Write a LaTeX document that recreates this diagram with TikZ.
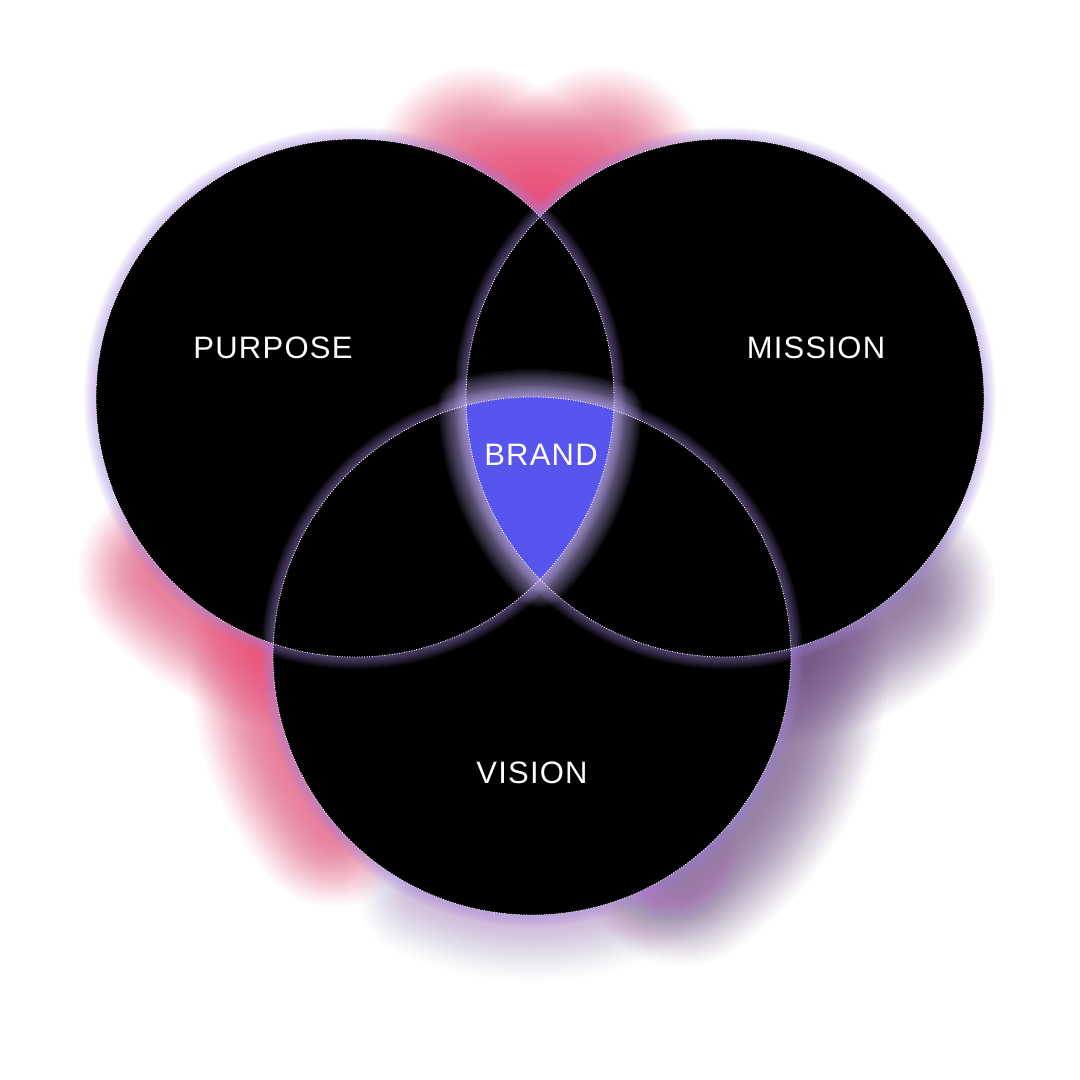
\documentclass[tikz,border=0pt]{standalone}
\usepackage{fontspec}
\setmainfont{Liberation Sans}
\newfontfamily\labelfont[LetterSpace=4]{Liberation Sans}
\definecolor{glowpink}{HTML}{E9527D}
\definecolor{glowmauve}{HTML}{75558A}
\definecolor{glowlilac}{HTML}{A77AB8}
\definecolor{halo}{HTML}{A98BE6}
\definecolor{brandglow}{HTML}{C4B4FA}
\definecolor{brandfill}{HTML}{5854EE}
\newcommand{\labelsize}{\labelfont\fontsize{31}{36}\selectfont}
\newcommand{\rad}{259}

\begin{document}
\begin{tikzpicture}[x=1pt, y=1pt,
  disc/.style={fill=black},
  rim/.style={draw=white, line width=0.9pt, dash pattern=on 0.9pt off 1.6pt},
  word/.style={text=white, font=\labelsize, inner sep=0pt},
  brandedge/.style={insert path={(vision) ++(104.74:\rad)
    arc[start angle=104.74, end angle=71.6, radius=\rad]
    arc[start angle=-2.7, end angle=-44.4, radius=\rad]
    arc[start angle=224.4, end angle=181.66, radius=\rad] -- cycle}}]
\useasboundingbox[fill=white] (0,0) rectangle (1080,1080);

\coordinate (purpose) at (355,682);
\coordinate (mission) at (725,682);
\coordinate (vision) at (532,424);

% soft glow along the outer rims, gaussian falloff
\foreach \c/\sa/\ea/\gc/\op/\sg in {purpose/222/252/glowpink/0.035/45,
    vision/176/220/glowpink/0.035/45, purpose/44/62/glowpink/0.04/55,
    mission/136/118/glowpink/0.04/55, mission/286/312/glowmauve/0.035/52,
    vision/3/-55/glowmauve/0.035/52, vision/-55/-115/glowlilac/0.014/35}
  \foreach \k in {7,...,39}
    \draw[\gc, opacity=\op, line width={2*\sg*sqrt(2*ln(40/\k))}, line cap=round]
      (\c) ++(\sa:\rad) arc[start angle=\sa, end angle=\ea, radius=\rad];

\foreach \c in {purpose,mission,vision}
  \fill[disc] (\c) circle (\rad);

% thin halo just outside each disc
\foreach \c in {purpose,mission,vision}{
  \begin{scope}
    \clip (0,0) -- (0,1080) -- (1080,1080) -- (1080,0) -- cycle
      (\c) circle (\rad);
    \foreach \w in {2,4,...,24}
      \draw[halo, opacity=0.05, line width=\w pt] (\c) circle (\rad);
  \end{scope}}

% the shared part
\foreach \w in {4,8,...,56}
  \draw[brandglow, opacity=0.07, line width=\w pt, line join=round, brandedge];
\fill[brandfill, brandedge];

\foreach \c in {purpose,mission,vision}
  \draw[rim] (\c) circle (\rad);

\node[word] (purposelabel) at (273,732) {PURPOSE};
\node[word] (missionlabel) at (816,732) {MISSION};
\node[word] (brandlabel) at (541,625) {BRAND};
\node[word] (visionlabel) at (532,307) {VISION};
\end{tikzpicture}
\end{document}
